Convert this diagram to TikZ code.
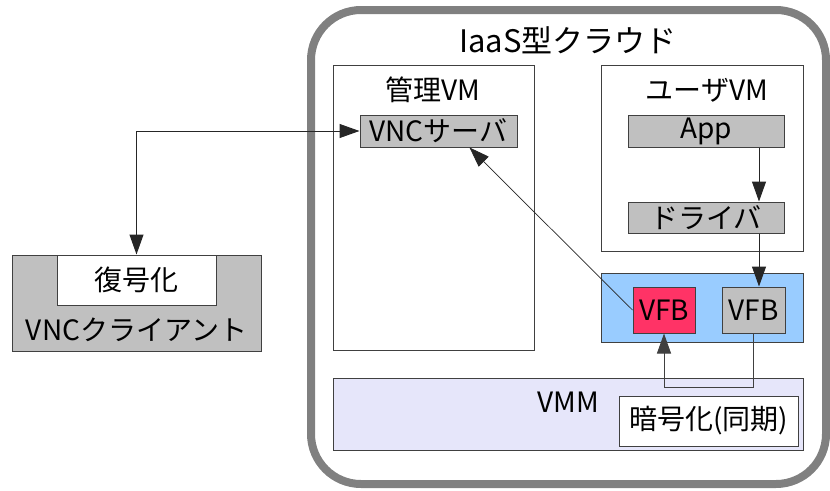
\documentclass[tikz,border=0pt]{standalone}
\usepackage{fontspec}
\setmainfont{Noto Sans CJK JP}
\usepackage{tikz}
\usetikzlibrary{arrows.meta}
\definecolor{boxgray}{HTML}{C0C0C0}
\definecolor{edgegray}{HTML}{404040}
\definecolor{cloudgray}{HTML}{808080}
\definecolor{vfbblue}{HTML}{99CCFF}
\definecolor{vfbred}{HTML}{FF3366}
\definecolor{vmmlav}{HTML}{E6E6FA}

\begin{document}
\begin{tikzpicture}[x=1pt, y=-1pt, font=\fontsize{28}{30}\selectfont,
	box/.style={draw=edgegray, line width=1pt, rectangle, inner sep=0pt},
	graybox/.style={box, fill=boxgray},
	tip/.tip={Triangle[length=20pt,width=14pt]},
	link/.style={draw=black!85, line width=1pt, -tip}]
	
	\useasboundingbox (0,0) rectangle (830,490);
	\draw[cloudgray, line width=8pt, rounded corners=50pt] (311,10) rectangle (826,484);
	\node[font=\fontsize{31}{34}\selectfont] (cloud) at (568,40) {IaaS型クラウド};
	
	\node[box, fill=white, minimum width=201pt, minimum height=285pt] (kanri) at (433.5,207.5) {};
	\node (kanrilbl) at (433,90) {管理VM};
	\node[graybox, minimum width=157pt, minimum height=32pt] (vncs) at (438.5,131) {VNCサーバ};
	
	\node[box, fill=white, minimum width=202pt, minimum height=186pt] (user) at (702,158) {};
	\node (userlbl) at (707,90) {ユーザVM};
	\node[graybox, minimum width=156pt, minimum height=32pt] (app) at (706,131) {App};
	\node[graybox, minimum width=156pt, minimum height=31pt] (driver) at (706,217.5) {ドライバ};
	
	\node[box, fill=vfbblue, minimum width=202pt, minimum height=69pt] (fbarea) at (702,307.5) {};
	\node[box, fill=vfbred, minimum width=62pt, minimum height=46pt] (vfbr) at (664,310) {VFB};
	\node[graybox, minimum width=63pt, minimum height=46pt] (vfbg) at (753.5,310) {VFB};
	
	\node[box, fill=vmmlav, minimum width=470pt, minimum height=72pt] (vmm) at (568,414) {};
	\node (vmmlbl) at (568,402) {VMM};
	\node[box, fill=white, minimum width=179pt, minimum height=50pt] (enc) at (708.5,421) {暗号化(同期)};
	
	\node[graybox, minimum width=249pt, minimum height=96pt] (client) at (136.5,303) {};
	\node (clientlbl) at (136.5,330) {VNCクライアント};
	\node[box, fill=white, minimum width=159pt, minimum height=50pt] (dec) at (136.5,280) {復号化};
	
	\coordinate (loopy) at (0,387);
	\draw[link, tip-tip] (vncs.west) -| (dec.north);
	\draw[link] ([xshift=5.5pt]app.south -| vfbg.north) -- ([xshift=5.5pt]driver.north -| vfbg.north);
	\draw[link] ([xshift=5.5pt]driver.south -| vfbg.north) -- ([xshift=5.5pt]vfbg.north);
	\draw[link, line width=0.7pt] (vfbr.west) -- ([xshift=31pt]vncs.south);
	\draw[link, draw=edgegray] (vfbg.south) |- (loopy -| vfbr.south) -- (vfbr.south);
	
\end{tikzpicture}
\end{document}
